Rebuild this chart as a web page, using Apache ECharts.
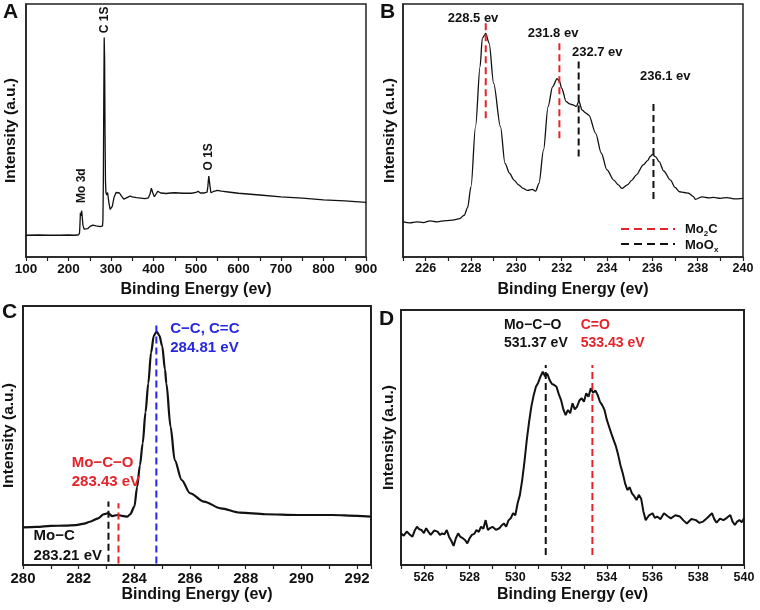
<!DOCTYPE html>
<html><head><meta charset="utf-8">
<script src="https://cdn.jsdelivr.net/npm/echarts/dist/echarts.min.js"></script>
<style>html,body{margin:0;padding:0;background:#fff}#c{width:760px;height:610px}</style>
</head><body><div id="c"></div>
<script>
// ---------- Panel A: survey spectrum ----------
const surveyEV = [100,130,155,156,157,180,200,215,224,226,
 227,228,229,230,231,232,234,237,240,245,
 250,257,265,275,280,281,282,283,284,285,
 286,287,288,290,292,295,298,300,303,307,
 312,316,320,325,330,335,340,345,350,360,
 370,380,388,392,395,398,402,405,410,413,
 417,420,430,440,450,470,490,500,505,510,
 520,526,528,530,531,533,535,540,550,560,
 580,600,650,700,750,800,850,900];
const surveyInt = [8.6,8.7,8.6,9.2,8.7,8.6,8.7,8.6,8.8,9.6,
 13,17.5,16.2,17.2,18.3,16.5,12.5,11,10.7,11.2,
 12.0,12.6,12.3,12.0,12.3,14.5,30,62,86.8,78,
 48,30,25.5,24.5,25.5,21.5,18.8,18.6,20,23.5,
 25.5,26,25.3,24,22.9,23.3,23.7,24.1,23.8,23.5,
 23.3,23.1,23.4,25,27.2,25.5,23.8,24.3,26,26.6,
 25.3,24.9,25.1,25.3,25.4,25.2,25.2,25.5,26,25.3,
 25.3,25.6,28,32,32.2,28,25.4,25.8,26.3,26,
 25.6,25.2,24.5,23.8,23.3,22.6,22.2,21.6];
const surveyLabels = ['Mo 3d','C 1S','O 1S'];
const surveyLabelEV = [231, 284.3, 530.6];
const surveyLabelInt = [28.2, 93.7, 39.6];

// ---------- Panel B: Mo 3d ----------
const mo3dEV = [225,225.3,225.6,225.9,226.2,226.5,226.9,227.2,227.5,227.7,
 227.85,228.0,228.2,228.4,228.5,228.65,228.8,229.0,229.3,229.5,
 229.7,229.9,230.1,230.3,230.5,230.7,230.85,231.0,231.2,231.4,
 231.6,231.8,231.9,232.0,232.2,232.35,232.5,232.65,232.76,232.9,
 233.05,233.2,233.5,233.75,234.0,234.3,234.5,234.65,234.9,235.1,
 235.3,235.6,235.8,235.9,236.0,236.15,236.3,236.5,236.8,237.0,
 237.2,237.4,237.6,237.8,237.9,238.2,238.5,238.7,239.0,239.3,
 239.6,240];
const mo3dInt = [14.0,13.5,13.9,13.6,14.3,13.9,14.4,14.6,15.2,16.5,
 19.5,27.8,51.5,75.2,86.5,88.4,84.5,68.6,51.5,37.0,
 33.1,30.4,28.5,27.1,26.3,26.7,26.0,29.1,42.3,59.4,
 67.3,70.5,69.5,66.7,61.4,60.5,60.1,59.5,61.6,58.1,
 57.0,56.1,48.9,41.0,34.4,30.4,28.5,27.1,28.5,30.4,
 32.5,36.4,38.2,39.7,40.5,39.6,37.7,34.0,30.4,27.5,
 25.8,25.5,25.2,24.0,22.8,23.8,23.4,23.6,23.2,23.5,
 23.0,23.2];
const mo3dPeakEV = [228.65, 231.9, 232.75, 236.05];
const mo3dPeakTop = [92.4, 85.1, 77.9, 60.7];
const mo3dPeakBottom = [54.8, 46.9, 39.7, 22.9];
const mo3dPeakGroup = ['Mo2C','Mo2C','MoOx','MoOx'];
const mo3dLabels = ['228.5 ev','231.8 ev','232.7 ev','236.1 ev'];
const mo3dLabelEV = [228.09, 231.62, 233.57, 236.57];
const mo3dLabelInt = [94.3, 88.4, 80.8, 71.5];

// ---------- Panel C: C 1s ----------
const c1sEV = [280.0,280.5,281.0,281.5,281.9,282.2,282.4,282.7,282.9,283.06,
 283.2,283.4,283.6,283.75,283.85,284.0,284.1,284.2,284.3,284.4,
 284.5,284.6,284.7,284.8,284.9,285.0,285.1,285.15,285.3,285.45,
 285.7,286.0,286.5,287.1,287.8,288.7,289.9,291.1,292.0,292.5];
const c1sInt = [14.5,14.7,15.1,15.2,15.4,16.0,16.7,18.0,19.6,20.0,
 18.9,19.3,18.9,18.7,19.6,22.5,30.2,38.5,47.0,59.0,
 70.1,82.0,88.6,90.1,88.6,84.5,75.5,70.1,53.4,40.5,
 32.8,27.7,24.5,21.9,20.2,19.6,19.3,19.3,19.0,18.7];
const c1sPeakEV = [283.07, 283.43, 284.79];
const c1sPeakTop = [24.5, 23.8, 92.7];
const c1sPeakBottom = [1.3, 0.6, 0.6];
const c1sLabels = ['C\u2212C, C=C','284.81 eV','Mo\u2212C\u2212O','283.43 eV','Mo\u2212C','283.21 eV'];
const c1sLabelEV = [285.29, 285.29, 281.75, 281.75, 280.38, 280.38];
const c1sLabelInt = [91.1, 84.0, 39.3, 32.2, 11.2, 3.6];

// ---------- Panel D: O 1s ----------
const o1sEV = [525.0,525.12,525.25,525.38,525.5,525.6,525.7,525.8,525.9,526.0,
 526.1,526.2,526.3,526.45,526.6,526.7,526.8,526.9,527.0,527.1,
 527.2,527.3,527.4,527.5,527.6,527.7,527.8,527.9,528.0,528.1,
 528.2,528.3,528.4,528.5,528.6,528.7,528.8,528.9,529.0,529.15,
 529.3,529.4,529.5,529.6,529.7,529.8,529.9,530.0,530.1,530.2,
 530.3,530.4,530.5,530.6,530.7,530.8,530.9,531.0,531.1,531.2,
 531.3,531.4,531.5,531.6,531.7,531.8,531.9,532.0,532.1,532.2,
 532.3,532.4,532.5,532.6,532.7,532.8,532.9,533.0,533.1,533.2,
 533.3,533.4,533.5,533.6,533.7,533.8,533.9,534.0,534.1,534.2,
 534.3,534.4,534.5,534.6,534.7,534.8,534.9,535.0,535.1,535.2,
 535.3,535.4,535.5,535.6,535.7,535.85,536.0,536.1,536.2,536.35,
 536.5,536.65,536.8,537.0,537.2,537.35,537.5,537.7,537.9,538.05,
 538.2,538.4,538.6,538.7,538.8,538.95,539.1,539.25,539.4,539.5,
 539.6,539.7,539.8,539.9,540.0];
const o1sInt = [12.4,11.5,13.1,12.0,11.1,13.5,15.0,14.0,13.7,12.5,
 14.4,13.0,11.8,13.5,13.1,11.8,12.4,12.0,13.7,11.1,
 9.5,7.5,10.5,12.4,11.0,10.5,9.8,8.5,10.5,11.8,
 12.2,13.7,13.0,15.0,14.2,17.6,13.7,14.5,15.0,13.8,
 14.4,15.5,16.3,15.0,17.5,18.3,20.3,19.5,24.2,27.5,
 33.3,40.5,49.0,56.0,62.1,66.5,69.9,71.5,73.9,75.8,
 74.0,75.0,72.5,71.0,70.6,69.9,67.0,64.7,61.0,58.8,
 60.8,59.5,63.4,61.0,62.1,64.5,65.4,64.0,67.3,66.0,
 69.3,67.5,68.4,66.7,64.0,62.7,60.8,57.0,54.2,51.5,
 49.0,46.5,43.1,39.0,35.9,32.0,29.4,30.5,28.1,27.0,
 25.5,27.5,26.1,21.0,17.6,19.5,20.3,18.5,19.0,18.0,
 20.3,19.2,18.3,19.5,19.0,17.5,16.3,18.0,17.6,16.5,
 17.0,18.5,20.3,18.0,16.6,18.2,17.6,18.5,19.6,17.0,
 15.7,17.0,17.6,16.8,18.3];
const o1sPeakEV = [531.33, 533.37];
const o1sPeakTop = [78.4, 78.4];
const o1sPeakBottom = [3.9, 3.9];
const o1sLabels = ['Mo\u2212C\u2212O','531.37 eV','C=O','533.43 eV'];
const o1sLabelEV = [529.5, 529.5, 532.86, 532.86];
const o1sLabelInt = [94.1, 86.9, 94.1, 86.9];

// ---------- styling ----------
const FONT = '"Liberation Sans", Arial, sans-serif';
const RED = '#e5232a', BLUE = '#2626e3', INK = '#111111', FRAME = '#222222';

function zip(xs, ys) { return xs.map((x, i) => [x, ys[i]]); }

const grids = [
  {left: 26, top: 4, width: 340, height: 253, bw: 1.5},
  {left: 403, top: 4, width: 340, height: 253, bw: 1.5},
  {left: 23, top: 306, width: 348, height: 259, bw: 2},
  {left: 401, top: 310, width: 343, height: 255, bw: 2}
];

function xAx(i, min, max, interval, step, fs, margin, nameGap) {
  return {
    type: 'value', gridIndex: i, min: min, max: max, interval: interval,
    axisLine: {show: true, lineStyle: {color: FRAME, width: grids[i].bw}},
    axisTick: {show: true, inside: false, length: 4, lineStyle: {color: FRAME, width: 1.2}},
    splitLine: {show: false},
    axisLabel: {
      margin: margin, fontSize: fs, fontWeight: 'bold', color: INK, fontFamily: FONT,
      formatter: v => (Math.abs(v / step - Math.round(v / step)) < 1e-6 ? String(v) : '')
    },
    name: 'Binding Energy (ev)', nameLocation: 'middle', nameGap: nameGap,
    nameTextStyle: {fontSize: 16, fontWeight: 'bold', color: INK, fontFamily: FONT}
  };
}
function yAx(i, nameGap) {
  return {
    type: 'value', gridIndex: i, min: 0, max: 100,
    axisLine: {show: true, lineStyle: {color: FRAME, width: grids[i].bw}},
    axisTick: {show: false}, axisLabel: {show: false}, splitLine: {show: false},
    name: 'Intensity (a.u.)', nameLocation: 'middle', nameGap: nameGap,
    nameTextStyle: {fontSize: 15.5, fontWeight: 'bold', color: INK, fontFamily: FONT}
  };
}
function curve(i, xs, ys, w, smooth) {
  return {type: 'line', xAxisIndex: i, yAxisIndex: i, data: zip(xs, ys), showSymbol: false,
    symbol: 'none', silent: true, animation: false, smooth: smooth, smoothMonotone: 'x',
    lineStyle: {color: INK, width: w}, z: 3};
}
function vlines(i, xs, tops, bottoms, colors) {
  return xs.map((x, k) => ({
    type: 'line', xAxisIndex: i, yAxisIndex: i, data: [[x, bottoms[k]], [x, tops[k]]],
    showSymbol: false, symbol: 'none', silent: true, animation: false, z: 4,
    lineStyle: {color: colors[k], width: 2, type: [7, 4]}
  }));
}
function labels(i, texts, xs, ys, colors, opts) {
  return {
    type: 'scatter', xAxisIndex: i, yAxisIndex: i, symbolSize: 0, silent: true, animation: false, z: 5,
    itemStyle: {opacity: 1, color: INK},
    emphasis: {disabled: true},
    data: texts.map((t, k) => ({
      value: [xs[k], ys[k]],
      label: Object.assign({show: true, formatter: t, color: colors[k], opacity: 1,
        fontFamily: FONT, fontWeight: 'bold'}, opts)
    }))
  };
}

const series = [
  curve(0, surveyEV, surveyInt, 1.3, false),
  curve(1, mo3dEV, mo3dInt, 1.3, 0.3),
  curve(2, c1sEV, c1sInt, 2.2, 0.3),
  curve(3, o1sEV, o1sInt, 2, false),
  ...vlines(1, mo3dPeakEV, mo3dPeakTop, mo3dPeakBottom, mo3dPeakGroup.map(g => g === 'Mo2C' ? RED : INK)),
  ...vlines(2, c1sPeakEV, c1sPeakTop, c1sPeakBottom, [INK, RED, BLUE]),
  ...vlines(3, o1sPeakEV, o1sPeakTop, o1sPeakBottom, [INK, RED]),
  labels(0, surveyLabels, surveyLabelEV, surveyLabelInt, [INK, INK, INK], {position: 'inside', rotate: 90, fontSize: 12}),
  labels(1, mo3dLabels, mo3dLabelEV, mo3dLabelInt, [INK, INK, INK, INK], {position: 'inside', fontSize: 13}),
  labels(2, c1sLabels, c1sLabelEV, c1sLabelInt, [BLUE, BLUE, RED, RED, INK, INK], {position: 'right', distance: 0, fontSize: 15}),
  labels(3, o1sLabels, o1sLabelEV, o1sLabelInt, [INK, INK, RED, RED], {position: 'right', distance: 0, fontSize: 14})
];

const panelFont = 'bold 21px ' + FONT;
const legendRich = {
  a: {fontSize: 13, fontWeight: 'bold', fontFamily: FONT, fill: INK, lineHeight: 18},
  s: {fontSize: 8, fontWeight: 'bold', fontFamily: FONT, fill: INK, lineHeight: 18, verticalAlign: 'bottom'}
};

const option = {
  backgroundColor: '#ffffff',
  animation: false,
  grid: grids.map(g => ({left: g.left, top: g.top, width: g.width, height: g.height, show: true,
    borderColor: FRAME, borderWidth: g.bw, backgroundColor: 'transparent', containLabel: false})),
  xAxis: [
    xAx(0, 100, 900, 50, 100, 13.5, 5, 25),
    xAx(1, 225, 240, 1, 2, 12.5, 5, 25),
    xAx(2, 280, 292.5, 1, 2, 15, 6, 22),
    xAx(3, 525, 540, 1, 2, 12.5, 6, 22)
  ],
  yAxis: [yAx(0, 7), yAx(1, 5), yAx(2, 6), yAx(3, 4)],
  series: series,
  graphic: [
    {type: 'text', x: 3, y: 2, style: {text: 'A', font: panelFont, fill: INK, verticalAlign: 'top'}},
    {type: 'text', x: 380, y: 2, style: {text: 'B', font: panelFont, fill: INK, verticalAlign: 'top'}},
    {type: 'text', x: 2, y: 302, style: {text: 'C', font: panelFont, fill: INK, verticalAlign: 'top'}},
    {type: 'text', x: 379, y: 309, style: {text: 'D', font: panelFont, fill: INK, verticalAlign: 'top'}},
    {type: 'line', shape: {x1: 621, y1: 229, x2: 675, y2: 229}, style: {stroke: RED, lineWidth: 2, lineDash: [8, 5]}},
    {type: 'line', shape: {x1: 621, y1: 244, x2: 675, y2: 244}, style: {stroke: INK, lineWidth: 2, lineDash: [8, 5]}},
    {type: 'text', x: 685, y: 229, style: {text: '{a|Mo}{s|2}{a|C}', rich: legendRich, verticalAlign: 'middle'}},
    {type: 'text', x: 685, y: 245, style: {text: '{a|MoO}{s|x}', rich: legendRich, verticalAlign: 'middle'}}
  ]
};

const chart = echarts.init(document.getElementById('c'), null, {renderer: 'canvas'});
chart.setOption(option);
</script></body></html>
